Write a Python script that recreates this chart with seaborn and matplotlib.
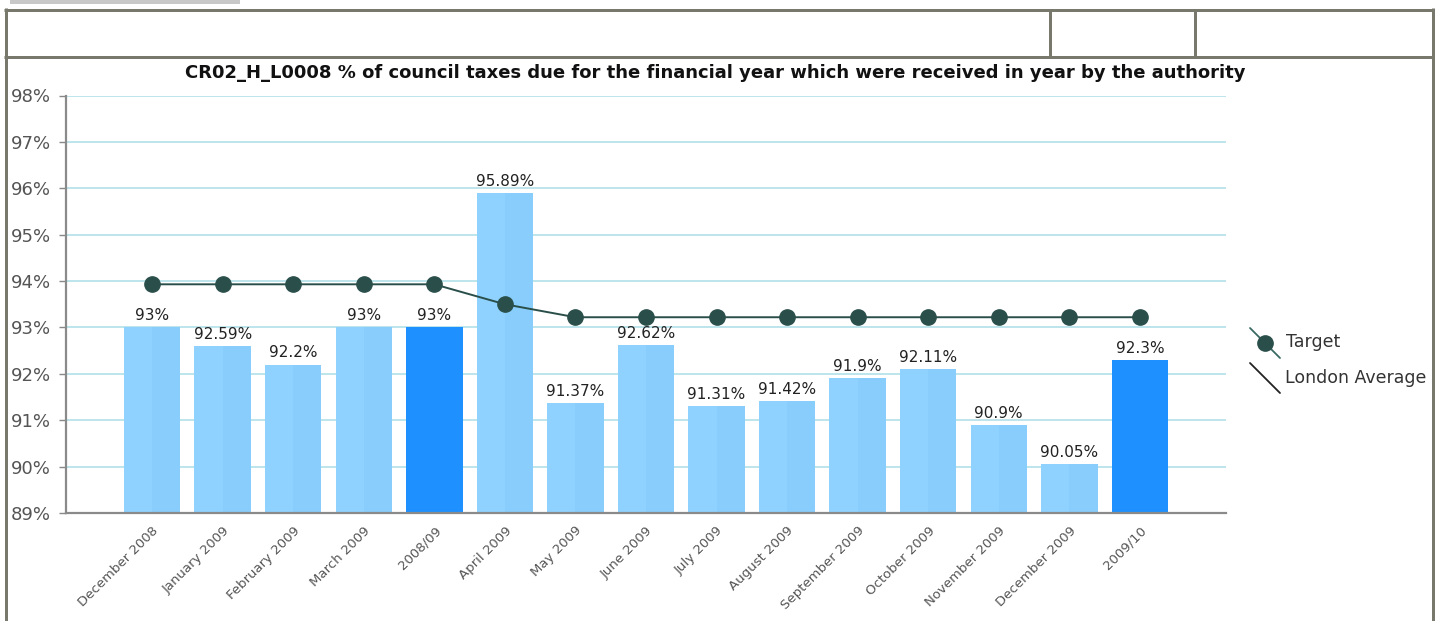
import numpy as np
import pandas as pd
import matplotlib
matplotlib.use("Agg")
import matplotlib.pyplot as plt
from matplotlib.lines import Line2D
from matplotlib.patches import Rectangle
import seaborn as sns

# ---- data -------------------------------------------------------------
periods = ["December 2008", "January 2009", "February 2009", "March 2009",
           "2008/09", "April 2009", "May 2009", "June 2009", "July 2009",
           "August 2009", "September 2009", "October 2009", "November 2009",
           "December 2009", "2009/10"]
collected = [93, 92.59, 92.2, 93, 93, 95.89, 91.37, 92.62, 91.31, 91.42,
             91.9, 92.11, 90.9, 90.05, 92.3]
value_labels = ["93%", "92.59%", "92.2%", "93%", "93%", "95.89%", "91.37%",
                "92.62%", "91.31%", "91.42%", "91.9%", "92.11%", "90.9%",
                "90.05%", "92.3%"]
target = [93.93, 93.93, 93.93, 93.93, 93.93, 93.5, 93.22, 93.22, 93.22,
          93.22, 93.22, 93.22, 93.22, 93.22, 93.22]
annual_periods = ["2008/09", "2009/10"]
y_ticks = [89, 90, 91, 92, 93, 94, 95, 96, 97, 98]

title = ("CR02_H_L0008 % of council taxes due for the financial year "
         "which were received in year by the authority")

# ---- styling ----------------------------------------------------------
LIGHT = "#8fd2ff"
LIGHT_SHADE = "#88cdfb"
DARK = "#1e90ff"
LINE = "#2a4f4a"
GRID = "#b8e3ea"
FRAME = "#78786c"
TEXT_GREY = "#555555"

sns.set_theme(style="white")
plt.rcParams["font.family"] = ["DejaVu Sans"]

W, H = 1440, 621
fig = plt.figure(figsize=(W / 100, H / 100), dpi=100)
fig.patch.set_facecolor("white")


def fx(x):
    return x / W


def fy(y):
    return 1 - y / H


ax = fig.add_axes([fx(66), fy(513), fx(1226) - fx(66), fy(95.5) - fy(513)])

df = pd.DataFrame({"period": periods, "value": collected})
df["kind"] = np.where(df["period"].isin(annual_periods), "annual", "monthly")
palette = {"annual": DARK, "monthly": LIGHT}

sns.barplot(data=df, x="period", y="value", hue="kind", palette=palette,
            dodge=False, legend=False, width=0.8, ax=ax, zorder=2,
            saturation=1, linewidth=0, edgecolor="none")

# subtle two-tone shading on the monthly bars (right half slightly darker)
light_rgb = matplotlib.colors.to_rgb(LIGHT)
for patch in list(ax.patches):
    if np.allclose(patch.get_facecolor()[:3], light_rgb):
        x0 = patch.get_x() + patch.get_width() / 2
        ax.add_patch(Rectangle((x0, patch.get_y()), patch.get_width() / 2,
                               patch.get_height(), facecolor=LIGHT_SHADE,
                               edgecolor="none", linewidth=0, zorder=2.1))

ax.set_ylim(89, 98)
ax.set_xlim(-1.22, len(periods) - 1 + 1.22)
ax.set_yticks(y_ticks)
ax.set_yticklabels([f"{v}%" for v in y_ticks], fontsize=13, color=TEXT_GREY)
ax.yaxis.grid(True, color=GRID, linewidth=1.3, zorder=0)
ax.set_axisbelow(True)

# value labels above each bar
for i, (v, lab) in enumerate(zip(collected, value_labels)):
    ax.annotate(lab, (i, v), xytext=(0, 3), textcoords="offset points",
                ha="center", va="bottom", fontsize=11, color="#222222",
                zorder=4)

# target line
ax.plot(np.arange(len(periods)), target, color=LINE, linewidth=1.4,
        marker="o", markersize=11, markerfacecolor=LINE,
        markeredgecolor=LINE, zorder=5)

ax.set_xlabel("")
ax.set_ylabel("")
ax.set_xticks(np.arange(len(periods)))
ax.set_xticklabels(periods, rotation=45, ha="right", rotation_mode="anchor",
                   fontsize=9.5, color=TEXT_GREY)
ax.tick_params(axis="y", length=5, width=1, color="#888888", pad=6,
               left=True)
ax.tick_params(axis="x", length=0, pad=8)

for side in ("top", "right"):
    ax.spines[side].set_visible(False)
for side in ("left", "bottom"):
    ax.spines[side].set_color("#8a8a8a")
    ax.spines[side].set_linewidth(1.6)

fig.text(fx(715), fy(73), title, ha="center", va="center",
         fontsize=13, fontweight="bold", color="#111111")

# ---- legend -----------------------------------------------------------
fig.add_artist(Line2D([fx(1250), fx(1280)], [fy(328), fy(358)],
                      color="#3a6a64", linewidth=1.3))
fig.add_artist(Line2D([fx(1265)], [fy(343)], marker="o", markersize=11,
                      color=LINE, linestyle="none"))
fig.text(fx(1286), fy(342), "Target", ha="left", va="center",
         fontsize=12.5, color="#333333")
fig.add_artist(Line2D([fx(1250), fx(1280)], [fy(363), fy(393)],
                      color="#222222", linewidth=1.3))
fig.text(fx(1285), fy(378), "London Average", ha="left", va="center",
         fontsize=12.5, color="#333333")

# ---- surrounding frame ------------------------------------------------
def frame_line(xs, ys, lw=3):
    fig.add_artist(Line2D([fx(x) for x in xs], [fy(y) for y in ys],
                          color=FRAME, linewidth=lw * 0.72,
                          solid_capstyle="butt"))


fig.add_artist(Rectangle((fx(10), fy(3.5)), fx(240) - fx(10),
                         fy(0) - fy(3.5), transform=fig.transFigure,
                         facecolor="#c8c8c8", edgecolor="none"))
frame_line([4, 1434], [9.5, 9.5])
frame_line([4, 1434], [56.5, 56.5])
frame_line([5.5, 5.5], [8, 621])
frame_line([1432.5, 1432.5], [8, 621])
frame_line([1050, 1050], [9.5, 56.5])
frame_line([1195, 1195], [9.5, 56.5])

fig.savefig("out.png", dpi=100, facecolor="white")
